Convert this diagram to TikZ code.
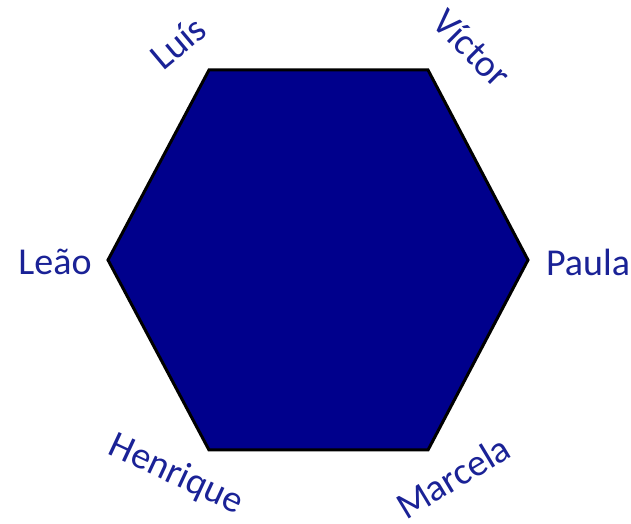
\documentclass[tikz,border=0pt]{standalone}
\usepackage{fontspec}
\setmainfont{Carlito}
\usepackage{xcolor}
\usepackage{tikz}
\usetikzlibrary{calc}
\definecolor{hexnavy}{RGB}{0,0,140}
\definecolor{namblue}{RGB}{26,34,150}
\tikzset{
  hexface/.style={draw=black, line width=3pt, line join=miter, fill=hexnavy},
  namelbl/.style={text=namblue, font=\fontsize{38}{40}\selectfont, inner sep=0pt},
}

\begin{document}
\begin{tikzpicture}[x=1pt,y=1pt]
\useasboundingbox (0,0) rectangle (631,524);

% ---------- hexagon corners ----------
\coordinate (tl) at (209,454);
\coordinate (tr) at (428,454);
\coordinate (rr) at (528,264);
\coordinate (br) at (428,74);
\coordinate (bl) at (209,74);
\coordinate (ll) at (108,264);

\draw[hexface] (tl) -- (tr) -- (rr) -- (br) -- (bl) -- (ll) -- cycle;

% ---------- names round the corners ----------
\node[namelbl,rotate=40]  (luis)   at (178,481) {Luís};
\node[namelbl,rotate=-45] (victor) at (472,476) {Víctor};
\node[namelbl]            (leao)   at (55,262)  {Leão};
\node[namelbl]            (paula)  at (588,262) {Paula};
\node[namelbl,rotate=-25] (henr)   at (176,49)  {Henrique};
\node[namelbl,rotate=31]  (marc)   at (453,47)  {Marcela};
\end{tikzpicture}
\end{document}
